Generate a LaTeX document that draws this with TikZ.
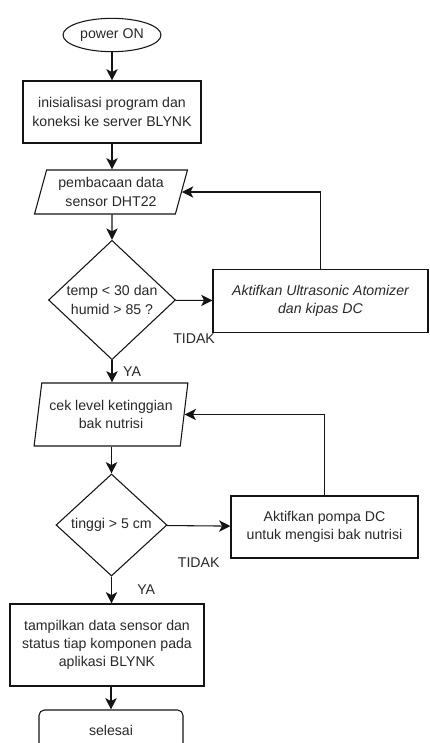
\documentclass[tikz,border=0pt]{standalone}
\usepackage{fontspec}
\setmainfont{Liberation Sans}
\usepackage{tikz}
\usetikzlibrary{positioning,shapes.geometric,arrows.meta}
\definecolor{linegray}{RGB}{20, 20, 20}
\definecolor{textgray}{RGB}{40, 40, 40}

\begin{document}
\begin{tikzpicture}[
					x=0.75pt, y=-0.75pt,
					base/.style={draw=linegray, line width=0.8pt, text=textgray, align=center,
						font=\fontsize{10.6}{13.7}\selectfont, inner sep=0pt},
					terminal/.style={base, ellipse, minimum width=73.5pt, minimum height=25pt},
					endbox/.style={base, rounded corners=4pt, minimum width=108pt, minimum height=30pt},
					box/.style={base, rectangle, minimum height=46.5pt},
					io/.style={base, trapezium, trapezium stretches=true, minimum width=115.5pt},
					decision/.style={base, diamond},
					lbl/.style={text=textgray, font=\fontsize{10.6}{13.7}\selectfont, inner sep=0pt},
					arr/.style={-{Stealth[length=8.5pt, width=8.5pt, inset=2.2pt]}, line width=0.8pt, draw=linegray}
					]
					\clip (0,0) rectangle (429,743);
					\node[terminal] (power) at (112,35)    {power ON};
					\node[box, minimum width=133.5pt] (init) at (112,112) {inisialisasi program dan\\koneksi ke server BLYNK};
					\node[io, minimum height=33pt, trapezium left angle=71, trapezium right angle=109]
						(sense) at (111,192) {pembacaan data\\sensor DHT22};
					\node[decision, minimum width=95.25pt, minimum height=85.5pt] (cekudara) at (112,300) {temp < 30 dan\\humid > 85 ?};
					\node[box, minimum width=161.25pt, minimum height=47.25pt, font=\fontsize{10.6}{13.7}\selectfont\itshape]
						(atomizer) at (320.5,301) {Aktifkan Ultrasonic Atomizer\\dan kipas DC};
					\node[io, minimum height=47.25pt, trapezium left angle=76.6, trapezium right angle=103.4]
						(level) at (111,414.5) {cek level ketinggian\\bak nutrisi};
					\node[decision, minimum width=83.25pt, minimum height=76.5pt] (cektinggi) at (111.5,525) {tinggi > 5 cm};
					\node[box, minimum width=140.25pt] (pompa) at (324.5,527) {Aktifkan pompa DC\\untuk mengisi bak nutrisi};
					\node[box, minimum width=145.5pt, minimum height=61.5pt] (tampil) at (107,645)
						{tampilkan data sensor dan\\status tiap komponen pada\\aplikasi BLYNK};
					\node[endbox] (selesai) at (111,730) {selesai};
					
					\draw[arr] (power)     -- (init);
					\draw[arr] (init)      -- (init |- sense.north);
					\draw[arr] (sense)     -- (sense.south -| cekudara.north) -- (cekudara);
					\draw[arr] (cekudara)  -- node[lbl, midway, yshift=-28.5pt] (tidak1) {TIDAK} (atomizer);
					\draw[arr] (atomizer)  |- (sense.east);
					\draw[arr] (cekudara)  -- node[lbl, midway, right=8pt] (ya1) {YA} (cekudara |- level.north);
					\draw[arr] (level.south -| cektinggi.north) -- (cektinggi);
					\draw[arr] (cektinggi) -- node[lbl, midway, yshift=-27.75pt] (tidak2) {TIDAK} (pompa);
					\draw[arr] (pompa)     |- (level.east);
					\draw[arr] (cektinggi) -- node[lbl, midway, right=19pt] (ya2) {YA} (cektinggi |- tampil.north);
					\draw[arr] (tampil.south -| selesai.north) -- (selesai);
				\end{tikzpicture}
\end{document}
